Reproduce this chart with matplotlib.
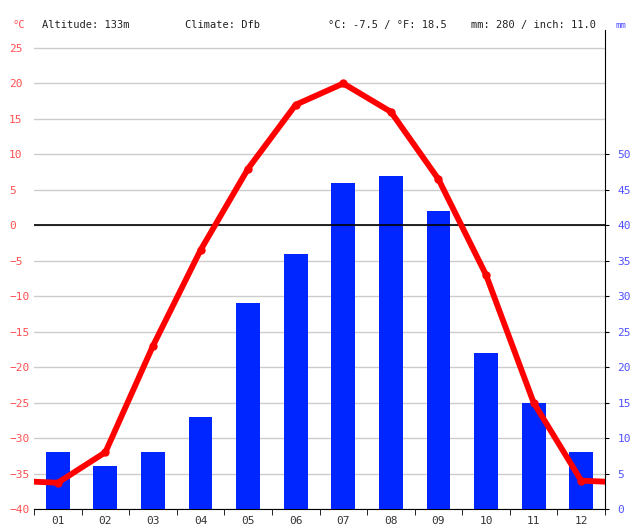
import numpy as np
import matplotlib.pyplot as plt

# climate data per month
months = ["01", "02", "03", "04", "05", "06", "07", "08", "09", "10", "11", "12"]
temp_c = [-36.3, -32.0, -17.0, -3.5, 8.0, 17.0, 20.0, 16.0, 6.5, -7.0, -25.0, -36.0]
precip_mm = [8, 6, 8, 13, 29, 36, 46, 47, 42, 22, 15, 8]
temp_ticks = list(range(-40, 30, 5))
mm_ticks = list(range(0, 55, 5))

header_altitude = "Altitude: 133m"
header_climate = "Climate: Dfb"
header_temp = "°C: -7.5 / °F: 18.5"
header_precip = "mm: 280 / inch: 11.0"

RED = "#ff0000"
BLUE = "#0026ff"
FONT = "DejaVu Sans Mono"

plt.rcParams["font.family"] = FONT

fig = plt.figure(figsize=(6.36, 5.28), dpi=100)
ax = fig.add_axes([34 / 636, 1 - 509 / 528, (605 - 34) / 636, (509 - 30) / 528])
ax2 = ax.twinx()

x = np.arange(len(months))

# temperature axis (left) - only gridlines and labels
t_top = 25 + 18 / (461 / 65)
ax.set_ylim(-40, t_top)
ax.set_xlim(-0.5, len(months) - 0.5)
ax.set_yticks(temp_ticks)
ax.grid(axis="y", color="#cccccc", linewidth=1)
ax.set_axisbelow(True)
ax.tick_params(axis="y", length=0, pad=18, labelsize=8, labelcolor="#ff5050")
for lab in ax.get_yticklabels():
    lab.set_ha("left")
for s in ["left", "top", "right"]:
    ax.spines[s].set_visible(False)
ax.spines["bottom"].set_color("black")

ax.set_xticks(x)
ax.set_xticklabels(months)
ax.set_xticks(np.arange(-0.5, len(months), 1), minor=True)
ax.tick_params(axis="x", which="major", length=0, pad=5, labelsize=8, labelcolor="#333333")
ax.tick_params(axis="x", which="minor", length=4, direction="out", color="black")

# precipitation axis (right)
ax2.set_ylim(0, t_top + 40)
ax2.set_yticks(mm_ticks)
ax2.tick_params(axis="y", length=3, pad=6, labelsize=8, labelcolor="#5050ff", color="black")
for s in ["left", "top", "bottom"]:
    ax2.spines[s].set_visible(False)
ax2.spines["right"].set_color("black")

ax2.bar(x, precip_mm, width=0.5, color=BLUE, zorder=1)

# zero line and temperature curve on top of the bars
ax2.plot([-0.5, len(months) - 0.5], [0, 0], color="black", linewidth=1.2,
         transform=ax.transData, zorder=2)
x_ext = np.concatenate([[-1], x, [len(months)]])
t_ext = [temp_c[-1]] + temp_c + [temp_c[0]]
ax2.plot(x_ext, t_ext, color=RED, linewidth=4.2, solid_joinstyle="round",
         transform=ax.transData, zorder=3)
ax2.plot(x, temp_c, "o", color=RED, markersize=5, transform=ax.transData, zorder=4)
ax2.set_xlim(-0.5, len(months) - 0.5)

# header texts
hy = 1 - 25 / 528
fig.text(12 / 636, hy, "°C", color="#ff5050", fontsize=7.5, va="center")
fig.text(42 / 636, hy, header_altitude, color="#222222", fontsize=7.5, va="center")
fig.text(185 / 636, hy, header_climate, color="#222222", fontsize=7.5, va="center")
fig.text(328 / 636, hy, header_temp, color="#222222", fontsize=7.5, va="center")
fig.text(471 / 636, hy, header_precip, color="#222222", fontsize=7.5, va="center")
fig.text(616 / 636, hy, "mm", color="#5050ff", fontsize=6.5, va="center")

fig.savefig("out.png", dpi=100)
